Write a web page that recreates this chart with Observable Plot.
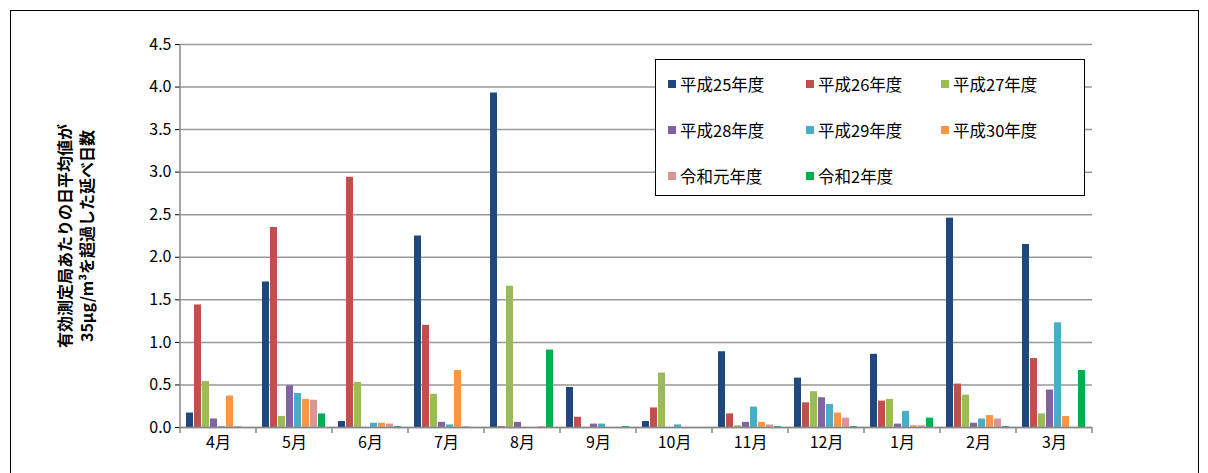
<!DOCTYPE html>
<html><head><meta charset="utf-8">
<script src="https://cdn.jsdelivr.net/npm/d3@7"></script>
<script src="https://cdn.jsdelivr.net/npm/@observablehq/plot@0.6"></script>
<style>
body{margin:0;background:#fff;font-family:"Noto Sans CJK JP",sans-serif;}
#wrap{position:relative;width:1208px;height:473px;overflow:hidden;}
#box{position:absolute;left:10px;top:10px;width:1187px;height:470px;border:1px solid #000;}
#ylab{position:absolute;left:75px;top:236px;transform:translate(-50%,-50%) rotate(-90deg);font-size:16px;font-weight:bold;text-align:center;line-height:22px;white-space:nowrap;}
#legend{position:absolute;left:655px;top:59px;width:428px;height:135px;border:1px solid #000;background:#fff;font-size:16.5px;}
.it{position:absolute;display:flex;align-items:center;gap:4px;}
.sw{width:8px;height:8px;display:inline-block;}
#chart{position:absolute;left:0;top:0;}
</style></head><body>
<div id="wrap"><div id="box"></div><div id="chart"></div>
<div id="ylab">有効測定局あたりの日平均値が<br>35μg/m³を超過した延べ日数</div>
<div id="legend"></div></div>
<script>
const months = ["4月","5月","6月","7月","8月","9月","10月","11月","12月","1月","2月","3月"];
const seriesNames = ["平成25年度","平成26年度","平成27年度","平成28年度","平成29年度","平成30年度","令和元年度","令和2年度"];
const colors = ["#1f497d","#c0504d","#9bbb59","#8064a2","#4bacc6","#f79646","#d99694","#00b050"];
const h25 = [0.17,1.71,0.07,2.25,3.93,0.47,0.07,0.89,0.58,0.86,2.46,2.15];
const h26 = [1.44,2.35,2.94,1.20,0.01,0.12,0.23,0.16,0.29,0.31,0.51,0.81];
const h27 = [0.54,0.13,0.53,0.39,1.66,0.00,0.64,0.02,0.42,0.33,0.38,0.16];
const h28 = [0.10,0.49,0.00,0.06,0.06,0.04,0.00,0.06,0.35,0.04,0.05,0.44];
const h29 = [0.01,0.40,0.05,0.03,0.00,0.04,0.03,0.24,0.27,0.19,0.10,1.23];
const h30 = [0.37,0.33,0.05,0.67,0.00,0.00,0.00,0.06,0.17,0.02,0.14,0.13];
const r1  = [0.01,0.32,0.04,0.01,0.01,0.00,0.00,0.03,0.11,0.02,0.10,0.00];
const r2  = [0.00,0.16,0.01,0.00,0.91,0.01,0.00,0.01,0.01,0.11,0.01,0.67];
const yTicks = [0,0.5,1,1.5,2,2.5,3,3.5,4,4.5];

const all = [h25,h26,h27,h28,h29,h30,r1,r2];
const data = [];
months.forEach((m,i)=>all.forEach((s,j)=>data.push({month:m,series:seriesNames[j],value:s[i]})));

const plot = Plot.plot({
  width:1208, height:473,
  marginTop:44, marginBottom:46, marginLeft:180, marginRight:116,
  style:{fontFamily:"'Noto Sans CJK JP',sans-serif",fontSize:"16px",background:"transparent"},
  fx:{domain:months,padding:0,label:null,axis:"bottom",tickSize:0},
  x:{domain:seriesNames,axis:null,paddingInner:0.12,paddingOuter:0.6},
  y:{domain:[0,4.5],ticks:yTicks,tickFormat:d3.format(".1f"),label:null,tickSize:5},
  color:{domain:seriesNames,range:colors},
  marks:[
    Plot.ruleY(yTicks,{stroke:"#999",strokeWidth:1.5}),
    Plot.barY(data,{fx:"month",x:"series",y:"value",fill:"series"}),
    Plot.ruleY([0],{stroke:"#888",strokeWidth:1.5})
  ]
});
plot.querySelectorAll("text").forEach(t=>t.setAttribute("fill","#000"));
// left axis line and month boundary ticks
const fx = plot.scale("fx");
const ns = "http://www.w3.org/2000/svg";
const addLine=(x1,y1,x2,y2)=>{const l=document.createElementNS(ns,"line");
  Object.entries({x1,y1,x2,y2,stroke:"#888","stroke-width":1.5}).forEach(([k,v])=>l.setAttribute(k,v));plot.appendChild(l);};
const y0 = 473-46;
addLine(180,44,180,y0+6);
months.forEach(m=>{const xe=fx.apply(m)+fx.bandwidth; addLine(xe,y0,xe,y0+6);});
document.getElementById("chart").appendChild(plot);

const lg = document.getElementById("legend");
const pos = [[12,12],[150,12],[285,12],[12,58],[150,58],[285,58],[12,104],[150,104]];
seriesNames.forEach((n,i)=>{
  const d=document.createElement("div");d.className="it";
  d.style.left=pos[i][0]+"px";d.style.top=pos[i][1]+"px";
  d.innerHTML=`<span class="sw" style="background:${colors[i]}"></span>${n}`;
  lg.appendChild(d);
});
</script></body></html>
